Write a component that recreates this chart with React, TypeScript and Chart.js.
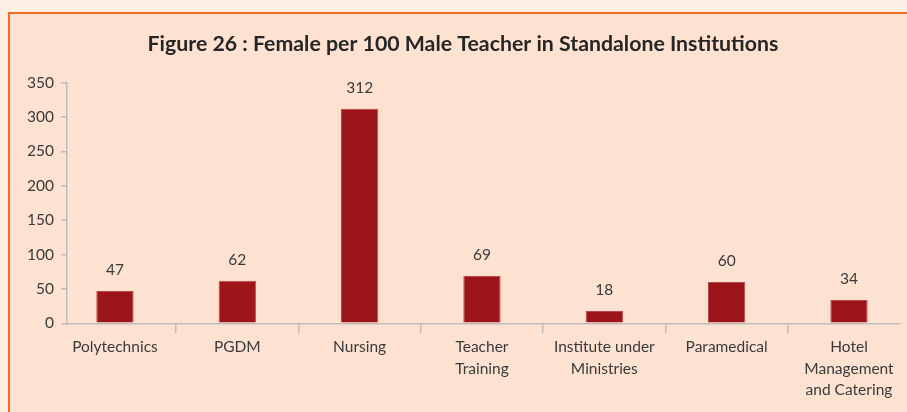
import React, { useEffect, useRef } from "react";
import { Chart, registerables } from "chart.js";

Chart.register(...registerables);

const titleText = "Figure 26 : Female per 100 Male Teacher in Standalone Institutions";
const categories: string[][] = [
  ["Polytechnics"],
  ["PGDM"],
  ["Nursing"],
  ["Teacher", "Training"],
  ["Institute under", "Ministries"],
  ["Paramedical"],
  ["Hotel", "Management", "and Catering"],
];
const values = [47, 62, 312, 69, 18, 60, 34];
const yTickValues = [0, 50, 100, 150, 200, 250, 300, 350];

const FONT = "Lato, 'Open Sans', sans-serif";
const TEXT = "#3a3a3a";
const AXIS = "#bdbdbd";

const valueLabels = {
  id: "valueLabels",
  afterDatasetsDraw(chart: any) {
    const ctx = chart.ctx;
    const meta = chart.getDatasetMeta(0);
    ctx.save();
    ctx.font = `15.5px ${FONT}`;
    ctx.fillStyle = TEXT;
    ctx.textAlign = "center";
    ctx.textBaseline = "middle";
    meta.data.forEach((bar: any, i: number) => {
      ctx.fillText(String(values[i]), bar.x, bar.y - 21);
    });
    ctx.restore();
  },
};

export default function App() {
  const ref = useRef<HTMLCanvasElement>(null);

  useEffect(() => {
    if (!ref.current) return;
    const chart = new Chart(ref.current, {
      type: "bar",
      data: {
        datasets: [
          {
            data: values.map((v, i) => ({ x: i, y: v })),
            backgroundColor: "#9b151a",
            borderColor: "#b9474a",
            borderWidth: 1,
            categoryPercentage: 1,
            barPercentage: 0.305,
          },
        ],
      },
      options: {
        animation: false,
        responsive: false,
        layout: { padding: { left: 26, right: 7, top: 0, bottom: 8 } },
        plugins: {
          legend: { display: false },
          tooltip: { enabled: false },
          title: {
            display: true,
            text: titleText,
            color: "#262626",
            font: { family: FONT, size: 21.3, weight: "bold" },
            padding: { top: 31, bottom: 26 },
          },
        },
        scales: {
          x: {
            type: "linear",
            min: -0.392,
            max: 6.417,
            offset: false,
            afterBuildTicks: (s: any) => {
              s.ticks = categories.map((_, i) => ({ value: i }));
            },
            ticks: {
              autoSkip: false,
              maxRotation: 0,
              minRotation: 0,
              padding: 3,
              color: TEXT,
              font: { family: FONT, size: 15.5, lineHeight: 1.39 },
              callback: (_v: any, i: number) => categories[i],
            },
            grid: {
              offset: true,
              drawOnChartArea: false,
              drawTicks: true,
              tickLength: 10,
              color: AXIS,
              lineWidth: 1.5,
            },
            border: { color: AXIS, width: 1.5 },
          },
          y: {
            min: 0,
            max: 350,
            afterFit: (s: any) => {
              s.width = 41;
            },
            afterBuildTicks: (s: any) => {
              s.ticks = yTickValues.map((v) => ({ value: v }));
            },
            ticks: {
              padding: 7,
              color: TEXT,
              font: { family: FONT, size: 15.5 },
            },
            grid: {
              drawOnChartArea: false,
              drawTicks: true,
              tickLength: 6,
              color: AXIS,
              lineWidth: 1.5,
            },
            border: { color: AXIS, width: 1.5 },
          },
        },
      } as any,
      plugins: [valueLabels],
    });
    return () => chart.destroy();
  }, []);

  return (
    <div style={{ position: "fixed", inset: 0, background: "#fdefe3", overflow: "hidden" }}>
      <div
        style={{
          position: "absolute",
          left: 8,
          top: 12,
          right: -10,
          bottom: -10,
          background: "#fde2d2",
          borderTop: "2px solid #f26c22",
          borderLeft: "2px solid #f26c22",
        }}
      />
      <canvas
        ref={ref}
        width={907}
        height={412}
        style={{ position: "absolute", left: 0, top: 0, width: 907, height: 412 }}
      />
    </div>
  );
}
